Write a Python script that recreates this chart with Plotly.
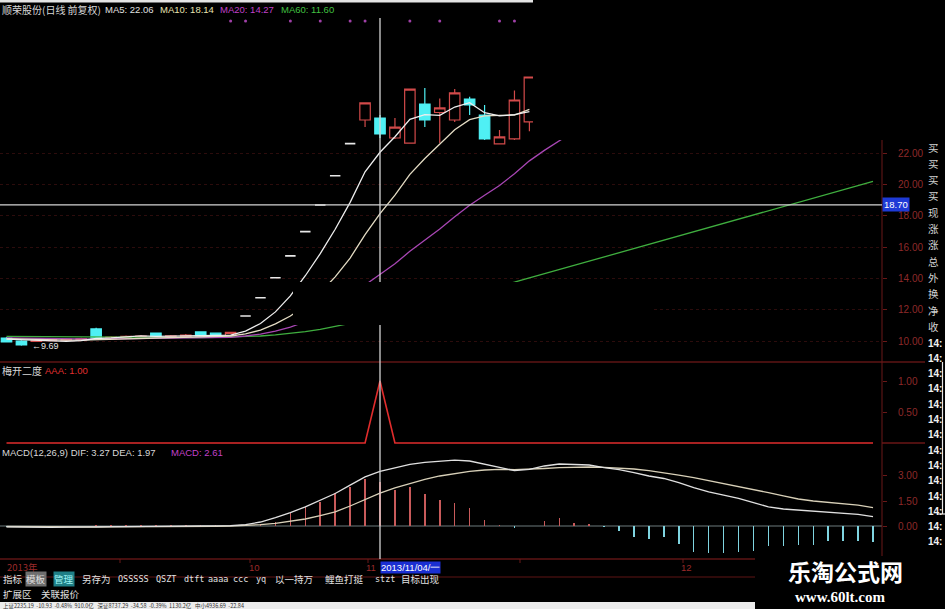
import plotly.graph_objects as go

W, H = 945, 609

# ---------------- data ----------------
bar_index = list(range(59))
cross_bar = 25
cross_price = 18.70
low_label = "←9.69"

k_open = [10.19, 10.00, 9.98, 10.02, 10.05, 10.08, 10.77, 10.15, 10.20, 10.24, 10.51, 10.26, 10.30, 10.58, 10.50, 10.35,
          11.60, 12.76, 14.04, 15.44, 16.99, 18.69, 20.56, 22.61, 24.12, 24.25, 22.97, 22.65, 25.14, 24.60, 24.12, 25.46,
          24.44, 22.59, 22.91, 24.00]
k_high = [10.25, 10.05, 10.10, 10.15, 10.18, 10.20, 10.85, 10.30, 10.35, 10.38, 10.55, 10.38, 10.45, 10.62, 10.55, 10.58,
          11.60, 12.76, 14.04, 15.44, 16.99, 18.69, 20.56, 22.61, 25.21, 24.44, 24.25, 26.10, 26.17, 25.50, 26.10, 25.60,
          25.08, 23.48, 26.00, 26.90]
k_low = [9.90, 9.69, 9.95, 9.98, 10.00, 10.03, 10.12, 10.10, 10.15, 10.18, 10.20, 10.22, 10.25, 10.28, 10.30, 10.32,
         11.60, 12.76, 14.04, 15.44, 16.99, 18.69, 20.56, 22.61, 23.67, 22.97, 22.90, 22.60, 23.67, 22.65, 24.00, 24.44,
         22.85, 22.55, 22.85, 23.40]
k_close = [9.94, 9.75, 10.05, 10.10, 10.12, 10.15, 10.19, 10.25, 10.30, 10.32, 10.26, 10.33, 10.38, 10.32, 10.35, 10.55,
           11.60, 12.76, 14.04, 15.44, 16.99, 18.69, 20.56, 22.61, 25.21, 23.23, 23.67, 26.10, 24.12, 24.90, 25.85, 25.08,
           22.91, 23.04, 25.40, 26.87]

ma5 = [10.12, 10.08, 10.03, 10.00, 9.98, 10.02, 10.16, 10.20, 10.25, 10.33, 10.30, 10.31, 10.32, 10.33, 10.36, 10.37,
       10.63, 11.12, 11.86, 12.88, 14.17, 15.58, 17.14, 18.86, 20.81, 22.06, 23.05, 24.16, 24.46, 24.42, 24.95, 25.23,
       24.59, 24.38, 24.46, 24.66]
ma10 = [10.15, 10.12, 10.10, 10.08, 10.06, 10.05, 10.08, 10.10, 10.12, 10.15, 10.18, 10.20, 10.23, 10.25, 10.28, 10.32,
        10.45, 10.70, 11.10, 11.60, 12.25, 13.10, 14.10, 15.30, 16.80, 18.14, 19.32, 20.65, 21.66, 22.60, 23.50, 24.14,
        24.38, 24.42, 24.44, 24.80]
ma20 = [10.20, 10.18, 10.16, 10.14, 10.12, 10.11, 10.12, 10.13, 10.14, 10.15, 10.16, 10.17, 10.18, 10.19, 10.20, 10.23,
        10.32, 10.44, 10.63, 10.89, 11.23, 11.65, 12.17, 12.80, 13.58, 14.27, 14.94, 15.73, 16.42, 17.16, 17.94, 18.68,
        19.31, 19.94, 20.69, 21.51, 22.18, 22.79, 23.40]
ma60 = [10.30, 10.29, 10.28, 10.27, 10.26, 10.25, 10.24, 10.24, 10.23, 10.23, 10.22, 10.22, 10.22, 10.22, 10.23, 10.25,
        10.28, 10.32, 10.39, 10.48, 10.60, 10.74, 10.92, 11.13, 11.38, 11.60, 11.83, 12.06, 12.30, 12.54, 12.78, 13.02,
        13.26, 13.50, 13.76, 14.03, 14.30, 14.57, 14.84, 15.11, 15.38, 15.65, 15.92, 16.19, 16.46, 16.73, 17.00, 17.27,
        17.54, 17.81, 18.08, 18.35, 18.62, 18.89, 19.16, 19.42, 19.68, 19.94, 20.20]

signal_bars = [15, 16, 19, 21, 23, 24, 27, 29, 33, 34]
signal_level = 30.45

aaa = [0, 0, 0, 0, 0, 0, 0, 0, 0, 0, 0, 0, 0, 0, 0, 0, 0, 0, 0, 0, 0, 0, 0, 0, 0, 1, 0, 0, 0, 0,
       0, 0, 0, 0, 0, 0, 0, 0, 0, 0, 0, 0, 0, 0, 0, 0, 0, 0, 0, 0, 0, 0, 0, 0, 0, 0, 0, 0, 0]

dif = [-0.05, -0.07, -0.08, -0.08, -0.07, -0.06, -0.04, -0.03, -0.02, -0.02, -0.02, -0.01, -0.01, 0.00, 0.01,
       0.02, 0.08, 0.24, 0.50, 0.80, 1.15, 1.55, 1.95, 2.45, 2.95, 3.27, 3.50, 3.70, 3.82, 3.90, 3.95, 3.90, 3.70,
       3.50, 3.32, 3.40, 3.60, 3.72, 3.70, 3.66, 3.50, 3.38, 3.20, 3.00, 2.85, 2.60, 2.30, 2.05, 1.85, 1.65, 1.40,
       1.15, 1.02, 0.96, 0.90, 0.86, 0.80, 0.70, 0.56]
dea = [-0.03, -0.04, -0.05, -0.06, -0.06, -0.06, -0.06, -0.05, -0.05, -0.04, -0.04, -0.03, -0.03, -0.02, -0.02,
       0.00, 0.03, 0.08, 0.16, 0.28, 0.42, 0.62, 0.85, 1.20, 1.60, 1.97, 2.28, 2.56, 2.80, 3.00, 3.15, 3.28, 3.36,
       3.40, 3.38, 3.40, 3.45, 3.50, 3.54, 3.54, 3.52, 3.48, 3.42, 3.32, 3.20, 3.05, 2.90, 2.72, 2.55, 2.40, 2.20,
       2.00, 1.80, 1.62, 1.50, 1.42, 1.36, 1.25, 1.10]
macd = [-0.04, -0.06, -0.06, -0.04, -0.02, 0.00, 0.04, 0.04, 0.06, 0.04, 0.04, 0.04, 0.04, 0.04, 0.06,
        0.04, 0.03, 0.10, 0.26, 0.76, 1.16, 1.46, 1.96, 2.36, 2.80, 2.61, 2.16, 2.36, 1.90, 1.56, 1.38, 1.08, 0.36,
        0.04, -0.10, 0.02, 0.30, 0.48, 0.18, 0.15, -0.05, -0.30, -0.66, -0.78, -0.66, -1.05, -1.55, -1.60, -1.60,
        -1.55, -1.50, -1.20, -1.20, -1.15, -1.15, -0.90, -0.88, -0.88, -0.96]

price_ticks = [10, 12, 14, 16, 18, 20, 22]
aaa_ticks = [0.5, 1.0]
macd_ticks = [0.0, 1.5, 3.0]

title_parts = [("顺荣股份(日线 前复权)", "#d8d8d8"), ("MA5: 22.06", "#e0e0e0"), ("MA10: 18.14", "#e8e4b0"),
               ("MA20: 14.27", "#c040c8"), ("MA60: 11.60", "#40c040")]
aaa_title = [("梅开二度", "#d8d8d8"), ("AAA: 1.00", "#e03030")]
macd_title = [("MACD(12,26,9) DIF: 3.27 DEA: 1.97", "#d8d8d8"), ("MACD: 2.61", "#c040c8")]
date_labels = ["2013年", "10", "11", "12"]
cross_date = "2013/11/04/一"
toolbar = ["指标", "模板", "管理", "另存为", "OSSSSS", "QSZT", "dtft", "aaaa", "ccc", "yq", "以一持万", "鲤鱼打挺", "stzt", "目标出现"]
toolbar2 = ["扩展区", "关联报价"]
# only the part of the quote column that is visible inside the window
side_rows = ["买", "买", "买", "买", "现", "涨", "涨", "总", "外", "换", "净", "收"]
time_rows = ["14:", "14:", "14:", "14:", "14:", "14:", "14:", "14:", "14:", "14:", "14:", "14:", "14:", "14:"]

# ---------------- helpers ----------------
def X(px):
    return px / W

def Y(px):
    return 1 - px / H

STEP, X0 = 14.94, 6.5          # pixel spacing of bars
def bar_range(px_left, px_right):
    return [(px_left - X0) / STEP, (px_right - X0) / STEP]

def price_at(py):
    return 10 + (341 - py) / 15.65

CJK = "Noto Sans CJK SC"
LAT = "Liberation Sans"

fig = go.Figure()

n = len(k_open)
up_i = [i for i in range(n) if k_high[i] != k_low[i]]
flat_i = [i for i in range(n) if k_high[i] == k_low[i]]

fig.add_trace(go.Candlestick(
    x=[bar_index[i] for i in up_i], open=[k_open[i] for i in up_i], high=[k_high[i] for i in up_i],
    low=[k_low[i] for i in up_i], close=[k_close[i] for i in up_i],
    increasing=dict(line=dict(color="#d24a4a", width=1.2), fillcolor="#000000"),
    decreasing=dict(line=dict(color="#4ff0f4", width=1.2), fillcolor="#4ff0f4"),
    whiskerwidth=0, xaxis="x", yaxis="y", hoverinfo="skip"))
fig.add_trace(go.Candlestick(
    x=[bar_index[i] for i in flat_i], open=[k_open[i] for i in flat_i], high=[k_high[i] for i in flat_i],
    low=[k_low[i] for i in flat_i], close=[k_close[i] for i in flat_i],
    increasing=dict(line=dict(color="#e8e8e8", width=1.6), fillcolor="#e8e8e8"),
    decreasing=dict(line=dict(color="#e8e8e8", width=1.6), fillcolor="#e8e8e8"),
    whiskerwidth=0, xaxis="x", yaxis="y", hoverinfo="skip"))

for vals, col in [(ma60, "#3fae3f"), (ma20, "#a846b4"), (ma10, "#e4dcc4"), (ma5, "#eeeeee")]:
    fig.add_trace(go.Scatter(x=bar_index[:len(vals)], y=vals, mode="lines",
                             line=dict(color=col, width=1.3), xaxis="x", yaxis="y", hoverinfo="skip"))

fig.add_trace(go.Scatter(x=signal_bars, y=[signal_level] * len(signal_bars), mode="markers",
                         marker=dict(color="#a040a8", size=3), xaxis="x", yaxis="y", hoverinfo="skip"))

# AAA panel
fig.add_trace(go.Scatter(x=bar_index, y=aaa, mode="lines", line=dict(color="#e02c2c", width=1.6),
                         xaxis="x", yaxis="y2", hoverinfo="skip"))

# MACD panel
fig.add_trace(go.Bar(x=bar_index, y=macd, width=0.1,
                     marker=dict(color=["#c85a5a" if v >= 0 else "#7fd4e0" for v in macd], line=dict(width=0)),
                     xaxis="x", yaxis="y3", hoverinfo="skip"))
fig.add_trace(go.Scatter(x=bar_index, y=dea, mode="lines", line=dict(color="#d8d0b8", width=1.3),
                         xaxis="x", yaxis="y3", hoverinfo="skip"))
fig.add_trace(go.Scatter(x=bar_index, y=dif, mode="lines", line=dict(color="#e0e0e0", width=1.3),
                         xaxis="x", yaxis="y3", hoverinfo="skip"))

tickfont = dict(color="#8e2a2a", size=10, family=LAT)
common_y = dict(side="right", anchor="x", ticks="outside", ticklen=4, tickcolor="#6a1818",
                tickfont=tickfont, tickformat=".2f", zeroline=False, showline=False,
                ticklabelstandoff=9, fixedrange=True)

fig.update_layout(
    width=W, height=H, margin=dict(l=0, r=0, t=0, b=0),
    paper_bgcolor="#000000", plot_bgcolor="#000000", showlegend=False,
    boxgap=0.3, boxgroupgap=0, bargap=0,
    xaxis=dict(domain=[0, X(882)], range=bar_range(0, 882), showticklabels=False, showgrid=False,
               zeroline=False, showline=False, ticks="", anchor="y3", rangeslider=dict(visible=False),
               fixedrange=True),
    yaxis=dict(domain=[Y(362), Y(14)], range=[price_at(362), price_at(14)], tickvals=price_ticks,
               showgrid=True, gridcolor="#2c0c0c", griddash="dot", gridwidth=1, **common_y),
    yaxis2=dict(domain=[Y(446), Y(364)], range=[(443 - 446) / 62, (443 - 364) / 62], tickvals=aaa_ticks,
                showgrid=False, **common_y),
    yaxis3=dict(domain=[Y(559), Y(446)], range=[(526 - 559) / 16.67, (526 - 446) / 16.67], tickvals=macd_ticks,
                showgrid=False, **common_y),
)

shapes = []
def rect(x0, y0, x1, y1, color, line=None):
    shapes.append(dict(type="rect", xref="paper", yref="paper", x0=X(x0), x1=X(x1), y0=Y(y1), y1=Y(y0),
                       fillcolor=color, line=dict(width=0) if line is None else line, layer="above"))

def hline(x0, x1, y, color, width=1):
    shapes.append(dict(type="line", xref="paper", yref="paper", x0=X(x0), x1=X(x1), y0=Y(y), y1=Y(y),
                       line=dict(color=color, width=width), layer="above"))

def vline(x, y0, y1, color, width=1):
    shapes.append(dict(type="line", xref="paper", yref="paper", x0=X(x), x1=X(x), y0=Y(y0), y1=Y(y1),
                       line=dict(color=color, width=width), layer="above"))

# MACD zero line
shapes.append(dict(type="line", xref="paper", yref="y3", x0=0, x1=X(882), y0=0, y1=0,
                   line=dict(color="#6c7a7c", width=1), layer="below"))
# separators and frame
hline(0, 925, 362, "#5e1414", 1.5)
hline(882, 925, 443, "#6a1616", 1.5)
hline(0, 755, 559, "#5e1414", 1.5)
hline(0, 755, 577, "#5e1414", 1.2)
vline(882, 140, 577, "#6a1818", 1)
for xp in [120, 250, 368, 520, 683]:
    vline(xp, 559, 563, "#6a1818", 1)
# crosshair
shapes.append(dict(type="line", xref="x", yref="paper", x0=cross_bar, x1=cross_bar, y0=Y(559), y1=Y(18),
                   line=dict(color="#d4d4d4", width=1.3), layer="above"))
shapes.append(dict(type="line", xref="paper", yref="y", x0=0, x1=X(882), y0=cross_price, y1=cross_price,
                   line=dict(color="#d4d4d4", width=1.3), layer="above"))
# masks in the screenshot
rect(533, 0, 945, 140, "#000000")
rect(293, 282, 652, 325, "#000000")
rect(755, 556, 945, 609, "#000000")
rect(0, 0, 533, 2.5, "#e4e4e4")
rect(0, 602, 755, 609, "#ececec")
# right white frame
vline(942.5, 362, 514, "#e8e8e8", 1.2)
hline(937, 945, 514, "#e8e8e8", 1.2)
fig.update_layout(shapes=shapes)

anns = []
def txt(text, x, y, color, size, family=CJK, bg=None, anchor="left", bold=False):
    if bold:
        text = "<b>" + text + "</b>"
    d = dict(x=X(x), y=Y(y), xref="paper", yref="paper", text=text, showarrow=False, xanchor=anchor,
             yanchor="middle", font=dict(color=color, size=size, family=family), borderpad=0)
    if bg:
        d["bgcolor"] = bg
    anns.append(d)

# panel titles
for (t, c), xp in zip(title_parts, [1, 104, 159, 219, 280]):
    txt(t, xp, 10, c, 10 if xp == 1 else 9.5, CJK if xp == 1 else LAT)
for (t, c), xp in zip(aaa_title, [1, 44]):
    txt(t, xp, 370, c, 10 if xp == 1 else 9.5, CJK if xp == 1 else LAT)
for (t, c), xp in zip(macd_title, [1, 170]):
    txt(t, xp, 452, c, 9.5, LAT)

# low label
anns.append(dict(x=1, y=k_low[1], xref="x", yref="y", text=low_label, showarrow=False, xanchor="left",
                 yanchor="middle", xshift=9, font=dict(color="#e6e6e6", size=9, family=LAT)))
# crosshair price label
anns.append(dict(x=X(882), y=cross_price, xref="paper", yref="y", text="%.2f" % cross_price, showarrow=False,
                 xanchor="left", yanchor="middle", bgcolor="#1e3ad6", borderpad=1,
                 font=dict(color="#ffffff", size=9.5, family=LAT)))

# date strip
for t, xp in zip(date_labels, [6, 248, 365, 680]):
    txt(t, xp, 567, "#9a2a2a", 9.5, CJK if "年" in t else LAT)
txt(cross_date, 380, 567, "#ffffff", 9.5, LAT, bg="#1a2fd2")

# toolbar
tb_x = [2, 25, 53, 81, 117, 155, 183, 207, 232, 255, 274, 324, 374, 400]
for t, xp in zip(toolbar, tb_x):
    is_latin = all(ord(ch) < 128 for ch in t)
    bg = "#6e6e6e" if t == "模板" else ("#1f7f86" if t == "管理" else None)
    col = "#9ff4f4" if t == "管理" else "#e0e0e0"
    txt(t, xp, 579, col, 8.5 if is_latin else 9.5, "DejaVu Sans Mono" if is_latin else CJK, bg=bg)
for t, xp in zip(toolbar2, [2, 40]):
    txt(t, xp, 594, "#e0e0e0", 9.5)

# right info column (visible part only)
for k, t in enumerate(side_rows):
    txt(t, 927, 147 + 16.3 * k, "#d2d2d2", 10.5)
for k, t in enumerate(time_rows):
    txt(t, 927, 343 + 15.3 * k, "#f0f0f0", 10, LAT, bold=True)

# watermark
txt("乐淘公式网", 845, 571, "#ffffff", 23, CJK, anchor="center", bold=True)
txt("www.60lt.com", 840, 597, "#ffffff", 15, "Liberation Serif", anchor="center", bold=True)

# status bar
txt("上证2235.19  -10.93  -0.48%  910.0亿   深证8737.29  -34.58  -0.39%  1130.2亿   中小4936.69  -22.84", 2, 605.5,
    "#303030", 5.5, CJK)

fig.update_layout(annotations=anns)
fig.write_html("out.html", config={"displayModeBar": False, "staticPlot": True},
               post_script="document.body.style.margin='0';document.body.style.overflow='hidden';")
